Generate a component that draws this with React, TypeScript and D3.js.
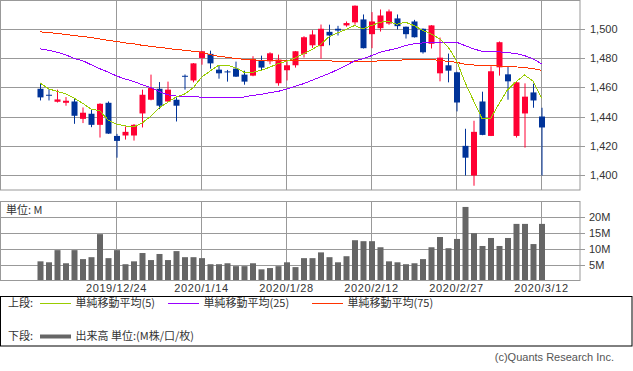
import * as d3 from "d3";

// trading days shown on the chart
const dates = [
  "2019/12/11", "2019/12/12", "2019/12/13", "2019/12/16", "2019/12/17", "2019/12/18", "2019/12/19", "2019/12/20",
  "2019/12/23", "2019/12/24", "2019/12/25", "2019/12/26", "2019/12/27", "2019/12/30",
  "2020/1/6", "2020/1/7", "2020/1/8", "2020/1/9", "2020/1/10", "2020/1/14", "2020/1/15", "2020/1/16", "2020/1/17",
  "2020/1/20", "2020/1/21", "2020/1/22", "2020/1/23", "2020/1/24", "2020/1/27", "2020/1/28", "2020/1/29", "2020/1/30",
  "2020/1/31", "2020/2/3", "2020/2/4", "2020/2/5", "2020/2/6", "2020/2/7", "2020/2/10", "2020/2/12", "2020/2/13",
  "2020/2/14", "2020/2/17", "2020/2/18", "2020/2/19", "2020/2/20", "2020/2/21", "2020/2/25", "2020/2/26", "2020/2/27",
  "2020/2/28", "2020/3/2", "2020/3/3", "2020/3/4", "2020/3/5", "2020/3/6", "2020/3/9", "2020/3/10", "2020/3/11",
  "2020/3/12",
];
const tickDates = ["2019/12/24", "2020/1/14", "2020/1/28", "2020/2/12", "2020/2/27", "2020/3/12"];

const opens = [
  1459.4, 1455.3, 1450.5, 1449.8, 1450.7, 1438.8, 1442.3, 1434.7, 1449.8, 1427.1,
  1427.4, 1427.4, 1442.5, 1451.9, 1459.4, 1450.7, 1451.9, 1468.3, 1465.1, 1480.5,
  1483.3, 1472.5, 1471.3, 1473.2, 1469.1, 1468.4, 1478.7, 1478.2, 1463.2, 1472.1,
  1475.5, 1483.3, 1489.2, 1488.6, 1498.4, 1500.5, 1502.8, 1504.9, 1506.9, 1496.8,
  1500.9, 1504.1, 1507.6, 1501.9, 1505.5, 1500.5, 1490.2, 1470.0, 1475.5, 1470.7,
  1420.3, 1400.0, 1450.7, 1427.1, 1474.1, 1469.3, 1427.1, 1442.5, 1456.9, 1440.4,
];
const highs = [
  1463.4, 1459.2, 1458.8, 1453.7, 1453.1, 1446.6, 1445.0, 1449.5, 1450.7, 1428.5,
  1433.6, 1435.2, 1458.8, 1469.1, 1464.0, 1464.3, 1453.5, 1469.2, 1477.0, 1485.3,
  1485.5, 1475.5, 1472.3, 1478.0, 1471.8, 1481.7, 1482.1, 1484.4, 1482.8, 1479.0,
  1485.3, 1495.4, 1499.5, 1503.4, 1503.3, 1502.5, 1505.5, 1516.5, 1510.3, 1511.9,
  1513.7, 1513.7, 1510.3, 1502.0, 1506.6, 1500.7, 1503.0, 1494.5, 1483.5, 1471.0,
  1432.0, 1437.5, 1457.4, 1474.8, 1491.8, 1474.8, 1464.0, 1463.1, 1462.9, 1446.4,
];
const lows = [
  1451.4, 1451.4, 1450.0, 1447.8, 1435.4, 1435.9, 1433.1, 1426.0, 1428.5, 1412.2,
  1424.6, 1423.9, 1432.9, 1451.5, 1445.5, 1450.3, 1437.0, 1458.8, 1463.8, 1475.9,
  1473.2, 1466.3, 1464.3, 1467.5, 1462.2, 1468.0, 1472.0, 1476.2, 1461.5, 1465.1,
  1473.9, 1480.8, 1487.4, 1480.0, 1489.2, 1495.9, 1501.9, 1503.3, 1487.0, 1487.2,
  1498.6, 1503.2, 1500.0, 1493.8, 1494.5, 1483.5, 1487.0, 1464.5, 1463.8, 1443.9,
  1400.0, 1393.0, 1427.6, 1427.0, 1468.4, 1451.9, 1426.0, 1419.1, 1446.4, 1400.0,
];
const closes = [
  1453.5, 1455.0, 1452.1, 1451.2, 1440.9, 1443.0, 1434.7, 1449.1, 1428.7, 1423.7,
  1429.9, 1434.7, 1455.3, 1459.9, 1447.8, 1458.8, 1447.8, 1468.0, 1476.8, 1485.1,
  1476.8, 1470.0, 1471.0, 1467.7, 1464.3, 1479.4, 1473.9, 1483.7, 1479.4, 1475.5,
  1485.1, 1494.7, 1496.6, 1500.5, 1495.9, 1499.3, 1504.4, 1516.3, 1487.2, 1505.5,
  1509.6, 1512.4, 1502.3, 1496.8, 1494.7, 1484.4, 1502.8, 1480.7, 1471.8, 1450.0,
  1412.2, 1429.9, 1427.8, 1471.4, 1491.3, 1464.5, 1463.8, 1454.0, 1451.4, 1432.9,
];

// moving averages as drawn on the chart
const ma5 = [
  1463.4, 1459.4, 1457.6, 1456.0, 1453.0, 1449.6, 1445.5, 1444.5, 1438.1, 1435.2,
  1434.0, 1433.3, 1435.9, 1440.5, 1446.2, 1450.0, 1453.8, 1455.8, 1459.9, 1467.3,
  1471.5, 1475.5, 1475.5, 1473.9, 1470.7, 1470.7, 1472.0, 1474.1, 1476.6, 1478.2,
  1480.5, 1483.5, 1486.3, 1489.7, 1495.0, 1497.7, 1500.0, 1502.7, 1500.5, 1502.7,
  1505.0, 1505.5, 1503.6, 1505.0, 1502.7, 1499.5, 1497.0, 1493.7, 1488.2, 1478.8,
  1463.8, 1451.3, 1439.0, 1439.0, 1449.2, 1458.7, 1464.2, 1468.8, 1464.7, 1453.2,
];
const ma25 = [
  1486.7, 1485.8, 1484.4, 1482.8, 1480.1, 1478.7, 1475.9, 1473.2, 1470.9, 1468.2,
  1466.1, 1464.5, 1462.2, 1460.3, 1457.6, 1455.3, 1454.4, 1453.9, 1453.9, 1453.7,
  1453.7, 1453.3, 1453.5, 1453.5, 1453.7, 1454.9, 1455.5, 1456.7, 1457.6, 1459.2,
  1461.0, 1462.9, 1465.2, 1467.5, 1469.8, 1472.5, 1475.3, 1478.5, 1479.9, 1482.1,
  1484.4, 1485.8, 1487.1, 1489.0, 1490.2, 1490.8, 1491.3, 1491.3, 1491.3, 1491.3,
  1489.0, 1486.7, 1485.1, 1484.9, 1484.7, 1484.2, 1483.5, 1482.1, 1479.9, 1476.6,
];
const ma75 = [
  1498.4, 1497.9, 1497.3, 1496.6, 1495.9, 1495.2, 1494.5, 1493.6, 1492.6, 1491.8,
  1490.8, 1490.2, 1489.2, 1488.5, 1487.8, 1487.1, 1486.3, 1485.8, 1485.1, 1484.4,
  1482.8, 1481.7, 1481.0, 1480.1, 1479.6, 1479.4, 1478.7, 1478.7, 1478.7, 1478.7,
  1478.7, 1478.7, 1478.7, 1478.7, 1478.7, 1478.0, 1478.0, 1478.0, 1478.0, 1478.0,
  1478.7, 1478.7, 1478.7, 1479.4, 1479.4, 1479.4, 1479.4, 1478.9, 1478.2, 1477.5,
  1476.2, 1475.7, 1475.5, 1475.3, 1475.0, 1474.6, 1474.4, 1473.9, 1473.2, 1472.0,
];

// volume in millions
const volumes = [
  6.3, 6.0, 9.8, 5.7, 9.8, 7.0, 7.6, 14.8, 7.3, 9.8,
  5.4, 6.3, 8.9, 6.7, 8.6, 6.7, 9.5, 7.6, 7.6, 7.3,
  5.4, 5.4, 5.7, 4.8, 4.8, 5.7, 3.8, 4.2, 4.8, 6.0,
  4.5, 7.3, 7.3, 9.1, 7.6, 6.0, 7.9, 12.9, 12.6, 12.6,
  10.7, 6.3, 6.0, 5.4, 5.7, 7.0, 10.7, 13.9, 10.4, 13.3,
  23.3, 15.1, 11.1, 13.6, 11.1, 13.6, 18.0, 18.0, 11.7, 18.0,
];

const priceTicks = [1400, 1420, 1440, 1460, 1480, 1500];
const volTicks = [5, 10, 15, 20];

const UP = "#ff0033";
const DOWN = "#003399";
const GRID = "#999999";
const NUM_FONT = "'Liberation Sans', Arial, sans-serif";
const JP_FONT = "'Noto Sans CJK JP', sans-serif";

export default function App() {
  const x = d3.scalePoint<string>().domain(dates).range([40, 541.5]);
  const y = d3.scaleLinear().domain([1400, 1500]).range([175.5, 29.5]);
  const yv = d3.scaleLinear().domain([0, 25]).range([281.5, 201.5]);
  const crisp = (v: number) => Math.floor(v) + 0.5;

  const maLine = (vals: number[]) =>
    d3
      .line<number>()
      .x((_, i) => x(dates[i])!)
      .y((d) => y(d))(vals)!;

  const lines = [
    { vals: ma75, color: "#ff3300" },
    { vals: ma25, color: "#9900ff" },
    { vals: ma5, color: "#99cc00" },
  ];

  return (
    <svg
      width={633}
      height={371}
      style={{ position: "absolute", left: 0, top: 0, background: "#fff" }}
    >
      <defs>
        <clipPath id="mainClip">
          <rect x={1} y={1} width={579} height={189} />
        </clipPath>
      </defs>

      {/* price panel grid */}
      {priceTicks.map((t) => (
        <g key={t}>
          <line x1={0.5} x2={585} y1={crisp(y(t))} y2={crisp(y(t))} stroke={GRID} />
          <text
            x={590}
            y={crisp(y(t))}
            dy="0.35em"
            fontFamily={NUM_FONT}
            fontSize={11}
            fill="#333"
          >
            {d3.format(",")(t)}
          </text>
        </g>
      ))}
      {tickDates.map((d) => (
        <line key={d} x1={x(d)} x2={x(d)} y1={0.5} y2={190} stroke={GRID} />
      ))}
      <rect x={0.5} y={0.5} width={579.5} height={189.5} fill="none" stroke={GRID} />

      {/* candles */}
      <g clipPath="url(#mainClip)">
        {dates.map((d, i) => {
          const cx = x(d)!;
          const up = closes[i] >= opens[i];
          const col = up ? UP : DOWN;
          const top = y(Math.max(opens[i], closes[i]));
          const bot = y(Math.min(opens[i], closes[i]));
          return (
            <g key={d}>
              <line
                x1={cx + 0.5}
                x2={cx + 0.5}
                y1={y(highs[i])}
                y2={y(lows[i])}
                stroke={col}
              />
              <rect x={cx - 2.5} y={top} width={6} height={Math.max(1, bot - top)} fill={col} />
            </g>
          );
        })}
        {lines.map((l) => (
          <path
            key={l.color}
            d={maLine(l.vals)}
            fill="none"
            stroke={l.color}
            strokeWidth={1}
            shapeRendering="crispEdges"
          />
        ))}
      </g>

      {/* volume panel */}
      {volTicks.map((t) => (
        <g key={t}>
          <line x1={0.5} x2={585} y1={crisp(yv(t))} y2={crisp(yv(t))} stroke={GRID} />
          <text
            x={589}
            y={crisp(yv(t))}
            dy="0.35em"
            fontFamily={NUM_FONT}
            fontSize={11}
            fill="#333"
          >
            {t}M
          </text>
        </g>
      ))}
      {tickDates.map((d) => (
        <line key={d} x1={x(d)} x2={x(d)} y1={201} y2={280} stroke={GRID} />
      ))}
      {dates.map((d, i) => (
        <rect
          key={d}
          x={x(d)! - 2.5}
          y={yv(volumes[i])}
          width={6}
          height={280 - yv(volumes[i])}
          fill="#666666"
        />
      ))}
      <rect x={0.5} y={201.5} width={579.5} height={79} fill="none" stroke={GRID} />
      <text x={6} y={213.5} fontFamily={JP_FONT} fontSize={11} fill="#333">
        単位: M
      </text>

      {/* date labels */}
      {tickDates.map((d) => (
        <text
          key={d}
          x={x(d)}
          y={292}
          textAnchor="middle"
          fontFamily={NUM_FONT}
          fontSize={11}
          letterSpacing={0.6}
          fill="#333"
        >
          {d}
        </text>
      ))}

      {/* legend */}
      <rect x={0.5} y={296.5} width={631.5} height={49.5} fill="none" stroke="#000" />
      <text x={8} y={307} fontFamily={JP_FONT} fontSize={11} fill="#333">
        上段:
      </text>
      <line x1={40} x2={71} y1={303.5} y2={303.5} stroke="#99cc00" />
      <text x={75.5} y={307} fontFamily={JP_FONT} fontSize={11} fill="#333">
        単純移動平均(5)
      </text>
      <line x1={168} x2={199} y1={303.5} y2={303.5} stroke="#9900ff" />
      <text x={203.5} y={307} fontFamily={JP_FONT} fontSize={11} fill="#333">
        単純移動平均(25)
      </text>
      <line x1={312} x2={343} y1={303.5} y2={303.5} stroke="#ff3300" />
      <text x={347.5} y={307} fontFamily={JP_FONT} fontSize={11} fill="#333">
        単純移動平均(75)
      </text>
      <text x={8} y={339.5} fontFamily={JP_FONT} fontSize={11} fill="#333">
        下段:
      </text>
      <line x1={40} x2={71} y1={336.5} y2={336.5} stroke="#666666" strokeWidth={4} />
      <text x={75.5} y={339.5} fontFamily={JP_FONT} fontSize={11} fill="#333">
        出来高 単位:(M株/口/枚)
      </text>

      <text
        x={614}
        y={361}
        textAnchor="end"
        fontFamily={NUM_FONT}
        fontSize={11}
        fill="#555"
      >
        (c)Quants Research Inc.
      </text>
    </svg>
  );
}
